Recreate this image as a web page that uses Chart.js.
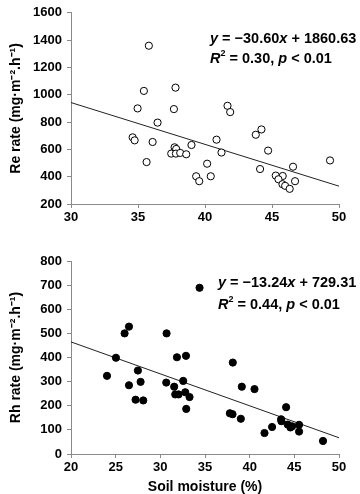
<!DOCTYPE html>
<html>
<head>
<meta charset="utf-8">
<script src="https://cdn.jsdelivr.net/npm/chart.js@4/dist/chart.umd.min.js"></script>
<style>
  body { margin: 0; background: #fff; }
  .box { position: absolute; left: 0; width: 360px; height: 247px; }
</style>
</head>
<body>
<div class="box" style="top:0"><canvas id="reChart" width="360" height="247"></canvas></div>
<div class="box" style="top:247px"><canvas id="rhChart" width="360" height="247"></canvas></div>
<script>
// Re rate vs soil moisture (open circles)
const reMoisture = [35.81, 35.44, 37.80, 34.97, 37.68, 36.46, 41.68, 41.88, 34.60, 34.75,
  36.09, 40.86, 44.21, 43.79, 44.71, 38.99, 37.73, 37.85, 37.48, 37.83,
  38.15, 38.60, 41.23, 35.64, 40.16, 44.11, 39.34, 40.43, 39.57, 46.57,
  49.33, 45.28, 45.80, 45.48, 45.78, 45.98, 46.32, 46.72];
const reRate = [1359, 1028, 1052, 900, 895, 796, 919, 873, 688, 666,
  654, 671, 746, 707, 591, 632, 615, 603, 569, 569,
  574, 564, 577, 507, 495, 456, 403, 403, 367, 473,
  519, 408, 405, 381, 345, 333, 311, 367];

// Rh rate vs soil moisture (filled circles)
const rhMoisture = [34.39, 26.49, 26.00, 30.70, 25.03, 24.03, 27.49, 26.49, 27.79, 27.23,
  28.09, 31.86, 32.87, 30.66, 31.55, 32.56, 31.67, 32.04, 32.79, 33.27,
  32.90, 38.11, 39.12, 40.54, 37.78, 38.08, 39.01, 44.08, 43.52, 43.55,
  42.51, 41.66, 44.26, 44.56, 44.75, 45.53, 45.53, 48.21];
const rhRate = [689, 528, 500, 500, 399, 324, 346, 285, 299, 225,
  222, 401, 407, 296, 279, 303, 247, 247, 256, 236,
  187, 379, 279, 269, 169, 165, 146, 194, 144, 136,
  112, 87, 122, 110, 115, 121, 93, 54];

// regression fits
const reFit = { slope: -30.60, intercept: 1860.63, r2: "0.30" };
const rhFit = { slope: -13.24, intercept: 729.31, r2: "0.44" };

const FONT = "'Liberation Sans', Arial, Helvetica, sans-serif";
const AXIS_GREY = "#8a8a8a";

function toPoints(xs, ys) {
  return xs.map((x, i) => ({ x: x, y: ys[i] }));
}

function fitLine(fit, x0, x1) {
  return [
    { x: x0, y: fit.slope * x0 + fit.intercept },
    { x: x1, y: fit.slope * x1 + fit.intercept }
  ];
}

// draws "y = ax + b" and "R2 = .., p < 0.01" with italic letters
function equationPlugin(fit, left, top1, top2) {
  return {
    id: "equation",
    afterDraw(chart) {
      const ctx = chart.ctx;
      const bold = "bold 14.5px " + FONT;
      const ital = "italic bold 14.5px " + FONT;
      const small = "bold 9px " + FONT;
      ctx.save();
      ctx.fillStyle = "#000";
      ctx.textBaseline = "middle";
      function run(parts, x, y) {
        parts.forEach(p => {
          ctx.font = p[1];
          const dy = p[2] || 0;
          ctx.fillText(p[0], x, y + dy);
          x += ctx.measureText(p[0]).width;
        });
      }
      const b = fit.intercept.toFixed(2);
      const a = Math.abs(fit.slope).toFixed(2);
      run([["y", ital], [" = \u2212" + a, bold], ["x", ital], [" + " + b, bold]], left, top1);
      run([["R", ital], ["2", small, -5], [" = " + fit.r2 + ", ", bold], ["p", ital], [" < 0.01", bold]], left, top2);
      ctx.restore();
    }
  };
}

function makeChart(id, opts) {
  const config = {
    type: "scatter",
    data: {
      datasets: [
        {
          data: opts.points,
          backgroundColor: opts.fill,
          borderColor: "#000",
          borderWidth: 1,
          pointRadius: 3.6,
          order: 1
        },
        {
          type: "line",
          data: opts.line,
          borderColor: "#222",
          borderWidth: 1,
          pointRadius: 0,
          fill: false,
          order: 2
        }
      ]
    },
    options: {
      responsive: false,
      animation: false,
      layout: { padding: { left: 8, right: 21, top: opts.top, bottom: 0 } },
      plugins: { legend: { display: false }, tooltip: { enabled: false } },
      scales: {
        x: {
          type: "linear",
          min: opts.xMin, max: opts.xMax,
          ticks: { stepSize: 5, color: "#000", font: { family: FONT, size: 13, weight: "bold" }, padding: 2,
                   callback: v => String(v) },
          grid: { drawOnChartArea: false, color: AXIS_GREY, tickLength: 4 },
          border: { color: AXIS_GREY },
          title: {
            display: !!opts.xTitle,
            text: opts.xTitle || "",
            color: "#000",
            font: { family: FONT, size: 14, weight: "bold" },
            padding: { top: 0, bottom: -1.5 }
          },
          afterFit(scale) { scale.height = opts.xHeight; }
        },
        y: {
          min: opts.yMin, max: opts.yMax,
          ticks: { stepSize: opts.yStep, color: "#000", font: { family: FONT, size: 13, weight: "bold" }, padding: 5,
                   callback: v => String(v) },
          grid: { drawOnChartArea: false, color: AXIS_GREY, tickLength: 4 },
          border: { color: AXIS_GREY },
          title: {
            display: true,
            text: opts.yTitle,
            color: "#000",
            font: { family: FONT, size: 14, weight: "bold" },
            padding: 0
          },
          afterFit(scale) { scale.width = 63; }
        }
      }
    },
    plugins: [opts.eq]
  };
  return new Chart(document.getElementById(id), config);
}

makeChart("reChart", {
  points: toPoints(reMoisture, reRate),
  fill: "#fff",
  line: fitLine(reFit, 30, 50),
  xMin: 30, xMax: 50,
  yMin: 200, yMax: 1600, yStep: 200,
  yTitle: "Re rate (mg\u00b7m\u207b\u00b2.h\u207b\u00b9)",
  top: 9,
  xHeight: 43,
  eq: equationPlugin(reFit, 210, 39, 59)
});

makeChart("rhChart", {
  points: toPoints(rhMoisture, rhRate),
  fill: "#000",
  line: fitLine(rhFit, 20, 50),
  xMin: 20, xMax: 50,
  yMin: 0, yMax: 800, yStep: 100,
  yTitle: "Rh rate (mg\u00b7m\u207b\u00b2.h\u207b\u00b9)",
  xTitle: "Soil moisture (%)",
  top: 14,
  xHeight: 40,
  eq: equationPlugin(rhFit, 218, 36, 58)
});
</script>
</body>
</html>
